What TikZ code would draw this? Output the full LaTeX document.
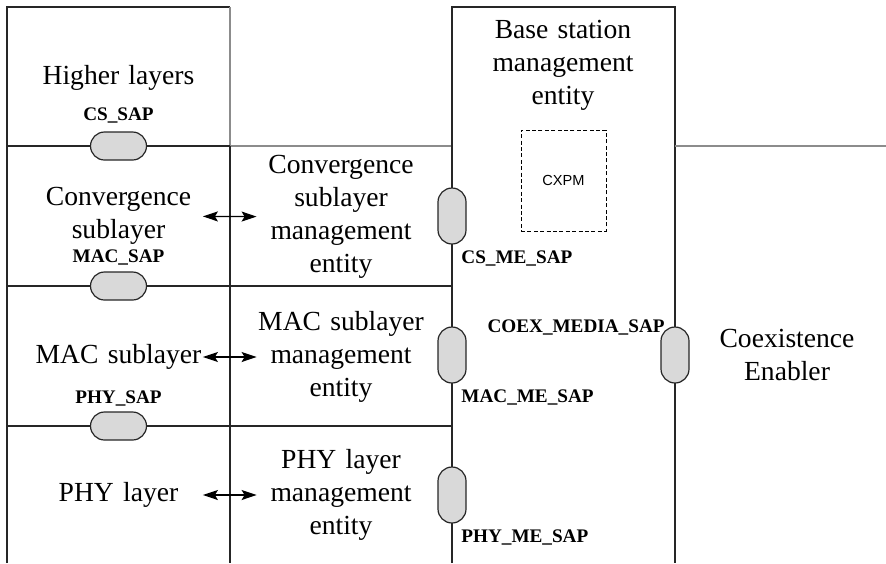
\documentclass[tikz,border=0pt]{standalone}
\usepackage{fontspec}
\setmainfont{Liberation Serif}
\newfontfamily\cxfont{Liberation Sans}
\usepackage{tikz}
\usetikzlibrary{arrows.meta,positioning}

\begin{document}
\begin{tikzpicture}[x=0.5pt,y=-0.5pt,
    layer/.style={font=\fontsize{13.8}{16.5}\selectfont, align=center, text width=84pt, inner sep=0pt},
    sap/.style={draw=black!85, fill=black!15, line width=0.6pt, rounded corners=7pt,
        minimum width=28pt, minimum height=14pt, inner sep=0pt},
    vsap/.style={sap, minimum width=14pt, minimum height=28pt},
    saplabel/.style={font=\fontsize{9.6}{11}\selectfont\bfseries, inner sep=0pt},
    frame/.style={black!85, line width=0.7pt},
    faint/.style={black!45, line width=0.7pt},
    link/.style={{Stealth[length=7.5pt,width=5pt,inset=1.5pt]}-{Stealth[length=7.5pt,width=5pt,inset=1.5pt]}, line width=0.6pt}]
    \useasboundingbox (0,0) rectangle (886,563);

    % layer columns
    \draw[frame] (7,563) -- (7,7) -- (230,7);
    \draw[faint] (230,7) -- (230,146) -- (452,146);
    \draw[frame] (230,146) -- (230,563);
    \draw[frame] (7,146) -- (230,146);
    \foreach \y in {286,426} {
        \draw[frame] (7,\y) -- (452,\y);
    }

    % base station management entity
    \draw[frame] (452,563) -- (452,7) -- (675,7) -- (675,563);
    \draw[faint] (675,146) -- (886,146);

    % layers and management entities
    \node[layer] (hl) at (118.5,78) {Higher layers};
    \node[layer] (cs) at (118.5,216) {Convergence\\sublayer};
    \node[layer] (mac) at (118.5,357) {MAC sublayer};
    \node[layer] (phy) at (118.5,495) {PHY layer};
    \node[layer] (csme) at (341,217) {Convergence\\sublayer\\management\\entity};
    \node[layer] (macme) at (341,357) {MAC sublayer\\management\\entity};
    \node[layer] (phyme) at (341,495) {PHY layer\\management\\entity};
    \node[layer] (bsme) at (563,65) {Base station\\management\\entity};
    \node[layer] (ce) at (787,355) {Coexistence\\Enabler};
    \node[draw, dash pattern=on 2pt off 1.2pt, line width=0.5pt, minimum width=42.5pt,
        minimum height=50.5pt, font=\cxfont\fontsize{7.3}{9}\selectfont] (cxpm) at (563.5,180.5) {CXPM};

    % service access points
    \foreach \name/\y in {cssap/146, macsap/286, physap/426} {
        \node[sap] (\name) at (118.5,\y) {};
    }
    \foreach \name/\x/\y in {csmesap/452/216, macmesap/452/355, phymesap/452/495, coexsap/675/355} {
        \node[vsap] (\name) at (\x,\y) {};
    }

    % SAP labels
    \node[saplabel] (cslbl) at (118.5,115) {CS\_SAP};
    \node[saplabel] (maclbl) at (118.5,257) {MAC\_SAP};
    \node[saplabel] (phylbl) at (118.5,398) {PHY\_SAP};
    \node[saplabel, anchor=west] (csmelbl) at (461,258) {CS\_ME\_SAP};
    \node[saplabel, anchor=west] (macmelbl) at (461,397) {MAC\_ME\_SAP};
    \node[saplabel, anchor=west] (phymelbl) at (461,537) {PHY\_ME\_SAP};
    \node[saplabel, anchor=east] (coexlbl) at (665,327) {COEX\_MEDIA\_SAP};

    % layer <-> management entity
    \draw[link] (cs) -- (csme);
    \draw[link] (mac) -- (macme);
    \draw[link] (phy) -- (phyme);

\end{tikzpicture}
\end{document}
